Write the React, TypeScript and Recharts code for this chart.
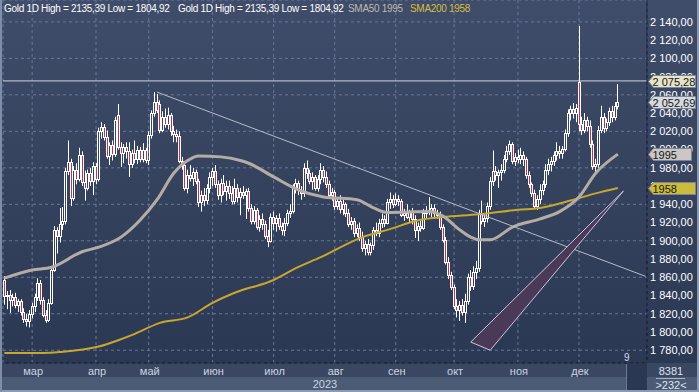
import { Bar, CartesianGrid, ComposedChart, Line, ReferenceLine, XAxis, YAxis } from 'recharts';

type OHLC = [number, number, number, number];

// daily candles [open, high, low, close]
const feb: OHLC[] = [
  [1857, 1861, 1830, 1839], [1839, 1845, 1825, 1841], [1841, 1846, 1821, 1835], [1835, 1842, 1828, 1838],
  [1838, 1843, 1826, 1830], [1830, 1836, 1822, 1834], [1834, 1836, 1818, 1822], [1822, 1826, 1810, 1814],
  [1814, 1820, 1806, 1812], [1812, 1824, 1805, 1820],
];
const mar: OHLC[] = [
  [1820, 1832, 1815, 1829], [1829, 1842, 1822, 1838], [1838, 1859, 1834, 1854], [1854, 1857, 1830, 1835],
  [1835, 1838, 1816, 1819], [1819, 1824, 1810, 1813], [1813, 1836, 1811, 1832], [1832, 1872, 1830, 1868],
  [1868, 1916, 1866, 1912], [1912, 1915, 1886, 1905], [1905, 1936, 1898, 1918], [1918, 1937, 1912, 1922],
  [1922, 1980, 1918, 1976], [1976, 2010, 1972, 1986], [1986, 1990, 1938, 1947], [1947, 1982, 1944, 1978],
  [1978, 1985, 1962, 1968], [1968, 2002, 1965, 1994], [1994, 1998, 1960, 1964], [1964, 1977, 1944, 1958],
  [1958, 1978, 1955, 1974], [1974, 1980, 1960, 1966], [1966, 1986, 1950, 1982],
];
const apr: OHLC[] = [
  [1982, 1985, 1962, 1968], [1968, 2024, 1965, 2020], [2020, 2030, 2012, 2025], [2025, 2028, 2010, 2014],
  [2014, 2021, 1990, 1993], [1993, 2008, 1983, 2005], [2005, 2010, 1988, 1995], [1995, 2036, 1992, 2032],
  [2038, 2050, 2000, 2003], [2003, 2008, 1981, 1996], [1996, 2006, 1985, 2003], [2003, 2008, 1990, 1998],
  [1998, 2008, 1970, 1984], [1984, 2000, 1980, 1996], [1996, 2010, 1985, 1990], [1990, 2004, 1984, 1999],
  [1999, 2003, 1986, 1990], [1990, 2007, 1986, 2000], [2000, 2002, 1985, 1989],
];
const may: OHLC[] = [
  [1989, 2020, 1983, 2016], [2016, 2043, 2012, 2040], [2040, 2063, 2036, 2052], [2052, 2061, 2040, 2043],
  [2050, 2054, 2018, 2022], [2022, 2042, 2019, 2036], [2036, 2045, 2024, 2028], [2028, 2046, 2022, 2038],
  [2038, 2040, 2015, 2020], [2020, 2026, 2008, 2017], [2017, 2022, 2008, 2015], [2015, 2020, 1985, 1988],
  [1988, 1992, 1978, 1983], [1983, 1986, 1955, 1958], [1958, 1978, 1952, 1972], [1972, 1983, 1965, 1969],
  [1969, 1980, 1960, 1975], [1975, 1978, 1962, 1966], [1966, 1968, 1937, 1942], [1942, 1955, 1932, 1950],
  [1950, 1958, 1938, 1945], [1945, 1962, 1940, 1958], [1958, 1975, 1952, 1970],
];
const jun: OHLC[] = [
  [1970, 1980, 1960, 1976], [1976, 1983, 1958, 1962], [1962, 1966, 1945, 1950], [1950, 1968, 1942, 1963],
  [1963, 1972, 1950, 1955], [1955, 1966, 1944, 1960], [1960, 1966, 1946, 1952], [1952, 1960, 1940, 1944],
  [1944, 1968, 1940, 1958], [1958, 1962, 1942, 1948], [1948, 1958, 1928, 1954], [1954, 1960, 1946, 1950],
  [1950, 1957, 1924, 1955], [1955, 1958, 1932, 1936], [1936, 1940, 1918, 1922], [1922, 1938, 1918, 1934],
  [1934, 1936, 1912, 1915], [1915, 1928, 1910, 1924], [1924, 1930, 1912, 1918], [1918, 1922, 1902, 1905],
  [1905, 1912, 1893, 1900], [1900, 1930, 1898, 1926],
];
const jul: OHLC[] = [
  [1926, 1932, 1912, 1920], [1920, 1928, 1910, 1925], [1925, 1930, 1912, 1916], [1916, 1920, 1906, 1912],
  [1912, 1925, 1905, 1920], [1920, 1934, 1916, 1930], [1930, 1940, 1925, 1933], [1933, 1962, 1930, 1958],
  [1958, 1968, 1952, 1963], [1963, 1966, 1950, 1956], [1956, 1960, 1945, 1952], [1952, 1985, 1948, 1980],
  [1980, 1988, 1968, 1974], [1974, 1978, 1962, 1966], [1966, 1975, 1956, 1970], [1970, 1972, 1955, 1958],
  [1958, 1972, 1954, 1968], [1968, 1985, 1962, 1978], [1978, 1982, 1964, 1970], [1970, 1976, 1958, 1962],
  [1962, 1966, 1946, 1950], [1950, 1958, 1944, 1954],
];
const aug: OHLC[] = [
  [1954, 1956, 1934, 1938], [1938, 1948, 1934, 1944], [1944, 1950, 1930, 1935], [1935, 1945, 1928, 1940],
  [1940, 1942, 1926, 1930], [1930, 1935, 1915, 1918], [1918, 1926, 1912, 1922], [1922, 1925, 1904, 1908],
  [1908, 1918, 1904, 1914], [1914, 1920, 1900, 1904], [1904, 1910, 1888, 1892], [1892, 1900, 1884, 1896],
  [1896, 1902, 1884, 1888], [1888, 1898, 1884, 1895], [1895, 1915, 1890, 1912], [1912, 1920, 1905, 1908],
  [1908, 1924, 1904, 1920], [1920, 1930, 1914, 1924], [1924, 1928, 1915, 1920], [1920, 1946, 1918, 1942],
  [1942, 1953, 1935, 1946], [1946, 1950, 1936, 1940],
];
const sep: OHLC[] = [
  [1940, 1952, 1938, 1946], [1946, 1950, 1938, 1944], [1944, 1946, 1926, 1928], [1928, 1935, 1922, 1930],
  [1930, 1940, 1924, 1926], [1926, 1934, 1920, 1932], [1932, 1936, 1918, 1924], [1924, 1928, 1903, 1912],
  [1912, 1920, 1900, 1916], [1916, 1922, 1910, 1914], [1914, 1935, 1912, 1930], [1930, 1938, 1924, 1934],
  [1934, 1948, 1928, 1932], [1932, 1940, 1926, 1936], [1936, 1940, 1924, 1930], [1930, 1934, 1924, 1928],
  [1928, 1932, 1912, 1915], [1915, 1918, 1898, 1901], [1901, 1904, 1874, 1877], [1877, 1882, 1858, 1862],
  [1862, 1866, 1846, 1849],
];
const oct: OHLC[] = [
  [1849, 1852, 1825, 1828], [1828, 1836, 1816, 1824], [1824, 1834, 1812, 1830], [1830, 1836, 1818, 1822],
  [1822, 1842, 1810, 1834], [1834, 1864, 1830, 1860], [1860, 1868, 1845, 1850], [1850, 1872, 1846, 1866],
  [1866, 1878, 1858, 1870], [1870, 1934, 1866, 1930], [1930, 1944, 1918, 1922], [1922, 1930, 1915, 1925],
  [1925, 1942, 1920, 1938], [1938, 1970, 1934, 1966], [1966, 1999, 1960, 1976], [1976, 1982, 1966, 1972],
  [1972, 1978, 1958, 1975], [1975, 1984, 1966, 1978], [1978, 1994, 1974, 1990], [1990, 2004, 1986, 1998],
  [1998, 2010, 1994, 2006], [2006, 2008, 1984, 1988], [1988, 1996, 1982, 1992],
];
const nov: OHLC[] = [
  [1992, 2000, 1985, 1990], [1990, 2002, 1984, 1994], [1994, 1998, 1982, 1990], [1990, 1992, 1968, 1972],
  [1972, 1976, 1958, 1962], [1962, 1964, 1948, 1952], [1952, 1956, 1935, 1938], [1938, 1950, 1934, 1946],
  [1946, 1962, 1940, 1956], [1956, 1966, 1950, 1962], [1962, 1984, 1958, 1978], [1978, 1990, 1972, 1984],
  [1984, 1992, 1976, 1988], [1988, 1998, 1982, 1994], [1994, 2008, 1988, 1998], [1998, 2004, 1990, 1996],
  [1996, 2004, 1990, 2001], [2001, 2022, 1998, 2018], [2018, 2044, 2014, 2040], [2040, 2048, 2032, 2044],
  [2044, 2051, 2034, 2040], [2040, 2050, 2030, 2046],
];
const dec: OHLC[] = [
  [2074, 2135.39, 2020, 2028], [2028, 2036, 2016, 2022], [2022, 2040, 2018, 2032], [2032, 2036, 2020, 2026],
  [2026, 2032, 2002, 2006], [2006, 2010, 1978, 1982], [1982, 1990, 1974, 1984], [1984, 2026, 1980, 2022],
  [2022, 2048, 2018, 2036], [2036, 2040, 2018, 2024], [2024, 2034, 2020, 2030], [2030, 2046, 2026, 2042],
  [2042, 2048, 2030, 2036], [2036, 2052, 2032, 2048], [2048, 2072, 2044, 2052.69],
];

// moving averages, [candle index, value] read at points along the curves
const sma50Pts: [number, number][] = [
  [0, 1859], [10, 1868], [17, 1871], [28, 1888], [34, 1893], [42, 1904], [49, 1923], [55, 1945],
  [61, 1974], [66, 1988], [70, 1993], [78, 1992], [85, 1988], [88, 1985], [97, 1970], [105, 1957],
  [115, 1948], [127, 1945], [133, 1936], [138, 1931], [153, 1932], [158, 1927], [164, 1912], [168, 1904],
  [171, 1901], [175, 1901], [183, 1915], [193, 1924], [200, 1932], [207, 1948], [213, 1974], [221, 1995],
];
const sma200Pts: [number, number][] = [
  [0, 1777], [14, 1777], [20, 1778], [34, 1784], [41, 1791], [47, 1798], [56, 1810], [66, 1816],
  [75, 1832], [83, 1843], [97, 1857], [105, 1870], [114, 1882], [129, 1904], [138, 1912], [150, 1923],
  [158, 1926], [171, 1929], [185, 1934], [193, 1936], [205, 1945], [213, 1952], [221, 1958],
];

const monthTicks = [10, 33, 52, 75, 97, 119, 141, 162, 185, 207];
const monthNames = ['мар', 'апр', 'май', 'июн', 'июл', 'авг', 'сен', 'окт', 'ноя', 'дек'];
const priceTicks = [1780, 1800, 1820, 1840, 1860, 1880, 1900, 1920, 1940, 1960, 1980, 2000, 2020, 2040, 2060, 2080, 2100, 2120, 2140];

const SLOTS = 232;
const lastClose = 2052.69;
const hLine = 2075.28;
const sma50Last = 1995;
const sma200Last = 1958;
// trend line and wedge anchors as [candle index, price]
const trendFrom = { x: 55, y: 2063 };
const trendTo = { x: 231, y: 1861 };
const wedgeA = { x: 168, y: 1789 };
const wedgeB = { x: 175, y: 1780 };
const wedgeC = { x: 223, y: 1954.5 };

const RED = '#c0334f';

const candles: OHLC[] = [...feb, ...mar, ...apr, ...may, ...jun, ...jul, ...aug, ...sep, ...oct, ...nov, ...dec];
const s50 = new Map(sma50Pts);
const s200 = new Map(sma200Pts);

const data = Array.from({ length: SLOTS }, (_, i) => {
  const k = candles[i];
  return {
    i,
    o: k ? k[0] : null,
    h: k ? k[1] : null,
    l: k ? k[2] : null,
    c: k ? k[3] : null,
    range: k ? [k[2], k[1]] : null,
    sma50: s50.get(i) ?? null,
    sma200: s200.get(i) ?? null,
  };
});

function fmtPrice(v: number) {
  const [a, b] = v.toFixed(2).split('.');
  const int = a.length > 3 ? a.slice(0, a.length - 3) + '\u00a0' + a.slice(-3) : a;
  return int + ',' + b;
}

function Candle(props: any) {
  const { x, y, width, height, payload } = props;
  if (!payload || payload.o == null) return null;
  const { o, h, l, c } = payload;
  const top = Math.min(y, y + height);
  const bot = Math.max(y, y + height);
  const py = (p: number) => (h === l ? top : top + ((h - p) / (h - l)) * (bot - top));
  const cx = Math.round(x + width / 2 - 0.5);
  const wx = cx + 0.5;
  const bTop = Math.round(py(Math.max(o, c))) + 0.5;
  const bBot = Math.max(Math.round(py(Math.min(o, c))) + 0.5, bTop + 1);
  const up = c >= o;
  return (
    <g>
      <line x1={wx} x2={wx} y1={top} y2={bTop} stroke="#fff" />
      <line x1={wx} x2={wx} y1={bBot} y2={bot} stroke="#fff" />
      <rect x={cx - 0.5} y={bTop} width={2} height={bBot - bTop} fill={up ? 'none' : RED} stroke="#fff" />
    </g>
  );
}

function PriceTag(props: any) {
  const { viewBox, text, bg, w = 47 } = props;
  if (!viewBox) return null;
  const x = viewBox.x + viewBox.width + 1.5;
  const y = Math.round(viewBox.y) + 0.5;
  const pts = `${x},${y} ${x + 5},${y - 6} ${x + w},${y - 6} ${x + w},${y + 6} ${x + 5},${y + 6}`;
  return (
    <g>
      <polygon points={pts} fill={bg} stroke="#7d8699" strokeWidth={1} />
      <text x={x + 4} y={y + 4} fontSize={11} fill="#161616">
        {text}
      </text>
    </g>
  );
}

function Wedge(props: any) {
  const { x1, y1, x2, y2 } = props;
  if ([x1, y1, x2, y2].some((v) => v == null || Number.isNaN(v))) return null;
  const kx = (x2 - x1) / (wedgeC.x - wedgeA.x);
  const ky = (y2 - y1) / (wedgeC.y - wedgeA.y);
  const bx = x1 + (wedgeB.x - wedgeA.x) * kx;
  const by = y1 + (wedgeB.y - wedgeA.y) * ky;
  return (
    <polygon
      points={`${x1},${y1} ${x2},${y2} ${bx},${by}`}
      fill="#4a3959"
      stroke="#cfc6dc"
      strokeWidth={1}
    />
  );
}

function MonthTick(props: any) {
  const { x, payload } = props;
  const idx = monthTicks.indexOf(payload.value);
  return (
    <text x={x + 1} y={375} textAnchor="middle" fontSize={11} fill="#ccd3e2">
      {monthNames[idx]}
    </text>
  );
}

const abs = (left: number, top: number, extra: any = {}) => ({ position: 'absolute' as const, left, top, ...extra });
const headerText = { fontSize: 10, letterSpacing: -0.3, lineHeight: '13px', whiteSpace: 'nowrap' as const };
const chartProps = {
  width: 699,
  height: 392,
  data,
  margin: { top: 0, right: 0, bottom: 0, left: 3 },
  barCategoryGap: 0,
  barGap: 0,
};

export default function App() {
  return (
    <div
      style={{
        position: 'absolute',
        left: 0,
        top: 0,
        width: 699,
        height: 392,
        overflow: 'hidden',
        background: '#3a4762',
        fontFamily: '"Liberation Sans", Arial, sans-serif',
      }}
    >
      <div style={abs(0, 0, { width: 699, height: 363, background: 'linear-gradient(#404d6a, #2b3853)' })} />
      <div style={abs(0, 377, { width: 699, height: 13, background: '#4b5a75' })} />
      <div style={abs(0, 390, { width: 699, height: 2, background: '#8b99b1' })} />
      <div style={abs(0, 0, { width: 2, height: 392, background: '#7f8ea8' })} />
      <div style={abs(697, 0, { width: 2, height: 392, background: '#8b99b1' })} />
      <div style={abs(626, 364, { width: 20, height: 26, background: '#2b3853', borderLeft: '1px solid #6d7a93' })} />
      <div style={abs(0, 0)}>
        <ComposedChart {...chartProps}>
          <CartesianGrid stroke="#66779a" strokeDasharray="3 3" />
          <XAxis
            dataKey="i"
            type="category"
            ticks={monthTicks}
            interval={0}
            height={29}
            tickLine={false}
            axisLine={{ stroke: '#121826' }}
            tick={<MonthTick />}
            label={{ value: '2023', position: 'insideBottom', offset: 4, fill: '#ccd3e2', fontSize: 11 }}
          />
          <YAxis
            orientation="right"
            width={52}
            domain={[1766, 2164]}
            allowDataOverflow
            ticks={priceTicks}
            tickFormatter={fmtPrice}
            tickLine={false}
            tickSize={0}
            tickMargin={3}
            axisLine={{ stroke: '#121826' }}
            tick={{ fill: '#ffffff', fontSize: 11 }}
          />
          <Bar dataKey="range" shape={Candle} isAnimationActive={false} />
          <Line
            dataKey="sma200"
            type="monotone"
            stroke="#c9a62c"
            strokeWidth={2}
            dot={false}
            connectNulls
            isAnimationActive={false}
          />
          <Line
            dataKey="sma50"
            type="monotone"
            stroke="#b4ada6"
            strokeWidth={3}
            dot={false}
            connectNulls
            isAnimationActive={false}
          />
          <ReferenceLine segment={[trendFrom, trendTo]} stroke="#b6bbcb" strokeWidth={1} />
          <ReferenceLine segment={[wedgeA, wedgeC]} shape={Wedge} />
          <ReferenceLine y={hLine} stroke="#d0d4de" strokeWidth={1} />
        </ComposedChart>
      </div>
      {/* overlay chart with the same layout so the price tags sit above the axis labels */}
      <div style={abs(0, 0)}>
        <ComposedChart {...chartProps}>
          <XAxis dataKey="i" type="category" height={29} tick={false} tickLine={false} axisLine={false} />
          <YAxis
            orientation="right"
            width={52}
            domain={[1766, 2164]}
            allowDataOverflow
            tick={false}
            tickLine={false}
            axisLine={false}
          />
          <ReferenceLine y={hLine} stroke="none" label={<PriceTag text={fmtPrice(hLine)} bg="#e7e5c9" />} />
          <ReferenceLine y={lastClose} stroke="none" label={<PriceTag text={fmtPrice(lastClose)} bg="#d5d9e0" />} />
          <ReferenceLine y={sma50Last} stroke="none" label={<PriceTag text={String(sma50Last)} bg="#cbc8c3" w={43} />} />
          <ReferenceLine y={sma200Last} stroke="none" label={<PriceTag text={String(sma200Last)} bg="#cdbc3c" />} />
        </ComposedChart>
      </div>
      <div style={abs(4, 2, { ...headerText, color: '#fff' })}>Gold 1D High = 2135,39 Low = 1804,92</div>
      <div style={abs(178, 2, { ...headerText, color: '#fff' })}>Gold 1D High = 2135,39 Low = 1804,92</div>
      <div style={abs(348, 2, { ...headerText, color: '#bdb8b2' })}>SMA50 1995</div>
      <div style={abs(410, 2, { ...headerText, color: '#d6be3e' })}>SMA200 1958</div>
      <div style={abs(624, 352, { color: '#d3d9e3', fontSize: 10, lineHeight: '12px' })}>9</div>
      <div style={abs(648, 365, { width: 46, textAlign: 'center', color: '#dfe4ec', fontSize: 11, lineHeight: '13px' })}>
        8381
      </div>
      <div style={abs(656, 378, { width: 29, height: 1, background: '#aab4c6' })} />
      <div style={abs(648, 379, { width: 46, textAlign: 'center', color: '#dfe4ec', fontSize: 11, lineHeight: '13px' })}>
        &gt;232&lt;
      </div>
    </div>
  );
}
